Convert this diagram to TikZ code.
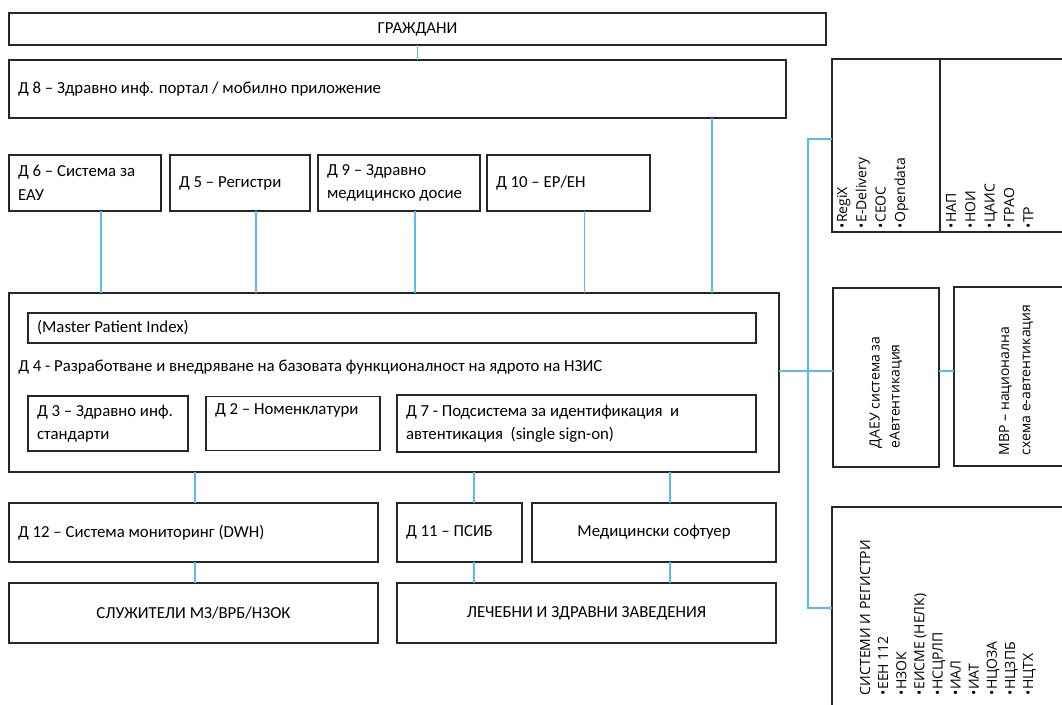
\documentclass[tikz,border=0pt]{standalone}
\usepackage{fontspec}
\setmainfont{Carlito}
\newfontfamily\sidefont{Open Sans}
\usepackage{xcolor}
\usetikzlibrary{positioning}
\definecolor{wire}{RGB}{86,190,235}

\begin{document}
\begin{tikzpicture}
		[x=0.75pt,y=-0.75pt,
		box/.style={rectangle,draw=black!85,line width=1.1pt,outer sep=0pt,font=\fontsize{12.6}{17.5}\selectfont},
		lbox/.style={box,align=flush left,inner xsep=6.75pt},
		sidebox/.style={box,rotate=90,align=flush left,font=\sidefont\fontsize{10.5}{14.5}\selectfont},
		link/.style={draw=wire,line width=0.8pt}]
		\useasboundingbox (0,0) rectangle (1062,704);
		\clip (0,0) rectangle (1062,704);

		\node [box,minimum width=612.75pt,minimum height=24pt] (citizens) at (417.5,29) {ГРАЖДАНИ};
		\node [lbox,text width=569.25pt,minimum height=43.5pt] (d8) at (397.5,89) {Д 8 – Здравно инф. портал / мобилно приложение};

		\node [lbox,text width=100.5pt,minimum height=42pt] (d6) at (85,183) {Д 6 – Система за\\ЕАУ};
		\node [lbox,text width=91.5pt,minimum height=42pt] (d5) [right=6.75pt of d6] {Д 5 – Регистри};
		\node [lbox,text width=108pt,minimum height=42pt] (d9) [right=6pt of d5] {Д 9 – Здравно\\медицинско досие};
		\node [lbox,text width=108.75pt,minimum height=42pt] (d10) [right=5.25pt of d9] {Д 10 – ЕР/ЕН};

		\node [box,minimum width=577.5pt,minimum height=134.25pt] (core) at (394,382.5) {};
		\node [lbox,text width=532.5pt,minimum height=22.5pt] (mpi) at (392,328) {(Master Patient Index)};
		\node [anchor=west,inner sep=0pt,font=\fontsize{12.6}{17.5}\selectfont] (d4) at ([xshift=6.75pt,yshift=11.6pt]core.west) {Д 4 - Разработване и внедряване на базовата функционалност на ядрото на НЗИС};
		\node [lbox,text width=106.5pt,minimum height=41.25pt] (d3) at (108,423.5) {Д 3 – Здравно инф.\\стандарти};
		\node [lbox,text width=117pt,text height=9pt,text depth=22.5pt,inner ysep=4.5pt] (d2) [right=13.5pt of d3] {Д 2 – Номенклатури};
		\node [lbox,text width=255.75pt,minimum height=42.75pt] (d7) [right=12.75pt of d2] {Д 7 - Подсистема за идентификация\ \ и\\автентикация\ \ (single sign-on)};

		\node [lbox,text width=263.25pt,minimum height=44.25pt] (d12) at (193.5,532.5) {Д 12 – Система мониторинг (DWH)};
		\node [lbox,text width=80.25pt,minimum height=44.25pt] (d11) [right=14.25pt of d12] {Д 11 – ПСИБ};
		\node [box,minimum width=183pt,minimum height=44.25pt] (medsoft) [right=7.5pt of d11] {Медицински софтуер};
		\node [box,minimum width=276.75pt,minimum height=45pt] (staff) at (193.5,613) {СЛУЖИТЕЛИ МЗ/ВРБ/НЗОК};
		\node [box,minimum width=284.25pt,minimum height=45pt] (hosp) [right=14.25pt of staff] {ЛЕЧЕБНИ И ЗДРАВНИ ЗАВЕДЕНИЯ};

		\node [sidebox,text width=123.75pt,inner xsep=3pt,inner ysep=0pt,text height=11.25pt,text depth=69.75pt] (regix) at (886,145.5) {•RegiX\\•E-Delivery\\•СЕОС\\•Opendata};
		\node [sidebox,text width=123.75pt,inner xsep=3pt,inner ysep=0pt,text height=12pt,text depth=85.5pt] (nap) at (1005,145.5) {•НАП\\•НОИ\\•ЦАИС\\•ГРАО\\•ТР};
		\node [sidebox,text width=105.75pt,inner xsep=14.25pt,minimum height=79.5pt,font=\sidefont\fontsize{10.5}{15}\selectfont] (daeu) at (886,377.5) {ДАЕУ система за\\еАвтентикация};
		\node [sidebox,text width=118pt,inner xsep=8.1pt,minimum height=93pt,font=\sidefont\fontsize{10.5}{16}\selectfont] (mvr) at (1016,376.5) {МВР – национална\\схема е-автентикация};
		\node [sidebox,text width=129.75pt,inner xsep=11.25pt,inner ysep=0pt,text height=28.5pt,text depth=150pt,font=\sidefont\fontsize{10.5}{13.6}\selectfont] (systems) at (951,608.5) {СИСТЕМИ И РЕГИСТРИ\\•ЕЕН 112\\•НЗОК\\•ЕИСМЕ (НЕЛК)\\•НСЦРЛП\\•ИАЛ\\•ИАТ\\•НЦОЗА\\•НЦЗПБ\\•НЦТХ};

		\coordinate (t8) at (712,0);
		\coordinate (t12) at (195,0);
		\coordinate (t11) at (474,0);
		\coordinate (tsw) at (670,0);
		\coordinate (bus1) at (808,139);
		\coordinate (bus2) at (808,608);
		\coordinate (hub) at (808,371);

		\draw [link] (citizens.south) -- (citizens.south |- d8.north);
		\draw [link] (d8.south -| t8) -- (core.north -| t8);
		\foreach \n in {d6,d5,d9,d10}
			\draw [link] ([xshift=12pt]\n.south) -- ([xshift=12pt]\n.south |- core.north);
		\draw [link] (core.south -| t12) -- (d12.north -| t12);
		\draw [link] (d12.south -| t12) -- (staff.north -| t12);
		\draw [link] (core.south -| t11) -- (d11.north -| t11);
		\draw [link] (d11.south -| t11) -- (hosp.north -| t11);
		\draw [link] (core.south -| tsw) -- (medsoft.north -| tsw);
		\draw [link] (medsoft.south -| tsw) -- (hosp.north -| tsw);
		\draw [link] (regix.north |- bus1) -- (bus1) -- (bus2) -- (systems.north |- bus2);
		\draw [link] (core.east |- hub) -- (daeu.north |- hub);
		\draw [link] (daeu.south |- hub) -- (mvr.north |- hub);

	\end{tikzpicture}
\end{document}
